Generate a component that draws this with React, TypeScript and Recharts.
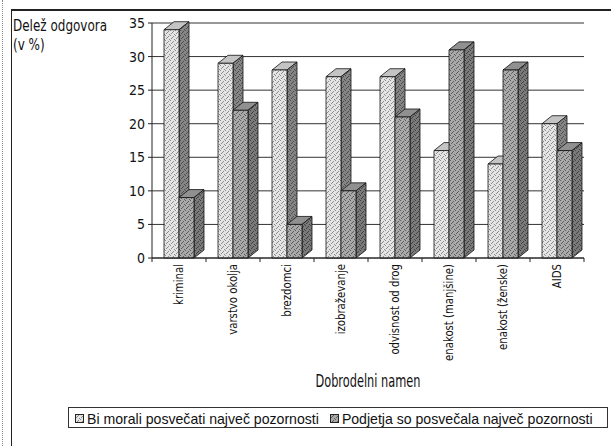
import React from "react";
import {
  BarChart,
  Bar,
  XAxis,
  YAxis,
  CartesianGrid,
  Legend,
  Label,
} from "recharts";

const categories = [
  "kriminal",
  "varstvo okolja",
  "brezdomci",
  "izobraževanje",
  "odvisnost od drog",
  "enakost (manjšine)",
  "enakost (ženske)",
  "AIDS",
];
// share of answers (in %) per charitable purpose
const shouldValues = [34, 29, 28, 27, 27, 16, 14, 20];
const companyValues = [9, 22, 5, 10, 21, 31, 28, 16];
const yTicks = [0, 5, 10, 15, 20, 25, 30, 35];

const SHOULD_NAME = "Bi morali posvečati največ pozornosti";
const COMPANY_NAME = "Podjetja so posvečala največ pozornosti";

const data = categories.map((name, i) => ({
  name,
  should: shouldValues[i],
  companies: companyValues[i],
}));

const W = 611;
const H = 446;
const PLOT_LEFT = 152;
const PLOT_RIGHT = 584;
const BAND = (PLOT_RIGHT - PLOT_LEFT) / categories.length;
const DEPTH_X = 10;
const DEPTH_Y = 8;

const NARROW = '"DejaVu Sans", sans-serif';
const PLAIN = '"Liberation Sans", Arial, sans-serif';

// horizontal squeeze around a point, to get a condensed face out of DejaVu
const squeeze = (x: number, y: number, s: number) =>
  `translate(${x},${y}) scale(${s},1) translate(${-x},${-y})`;

const faces = {
  should: { front: "url(#dotLight)", side: "url(#dotLightSide)", top: "#c4c4c4" },
  companies: { front: "url(#dotDark)", side: "url(#dotDarkSide)", top: "#909090" },
};

// stipple fill, a few darker pixels on a flat base
function Stipple({ id, base, dot }: { id: string; base: string; dot: string }) {
  return (
    <pattern id={id} width={5} height={5} patternUnits="userSpaceOnUse">
      <rect width={5} height={5} fill={base} />
      <rect x={0} y={0} width={1} height={1} fill={dot} />
      <rect x={3} y={1} width={1} height={1} fill={dot} />
      <rect x={1} y={3} width={1} height={1} fill={dot} />
      <rect x={4} y={4} width={1} height={1} fill={dot} />
      <rect x={2} y={2} width={1} height={1} fill={dot} />
    </pattern>
  );
}

function make3D(kind: "should" | "companies") {
  const f = faces[kind];
  return (props: any) => {
    const { x, y, width, height } = props;
    const x2 = x + width;
    const y2 = y + height;
    return (
      <g stroke="#111" strokeWidth={0.8} strokeLinejoin="round">
        <polygon
          points={`${x},${y} ${x + DEPTH_X},${y - DEPTH_Y} ${x2 + DEPTH_X},${y - DEPTH_Y} ${x2},${y}`}
          fill={f.top}
        />
        <polygon
          points={`${x2},${y} ${x2 + DEPTH_X},${y - DEPTH_Y} ${x2 + DEPTH_X},${y2 - DEPTH_Y} ${x2},${y2}`}
          fill={f.side}
        />
        <rect x={x} y={y} width={width} height={height} fill={f.front} />
      </g>
    );
  };
}

function CategoryTick(props: any) {
  const { x, y, payload, index } = props;
  const axisY = y - 6;
  const half = BAND / 2;
  const tx = x + 4;
  return (
    <g>
      {index === 0 && (
        <line x1={x - half} x2={x - half} y1={axisY} y2={axisY + 4} stroke="#222" />
      )}
      <line x1={x + half} x2={x + half} y1={axisY} y2={axisY + 4} stroke="#222" />
      <text
        x={tx}
        y={y}
        transform={`rotate(-90, ${tx}, ${y}) ${squeeze(tx, y, 0.78)}`}
        textAnchor="end"
        fontFamily={NARROW}
        fontSize={13}
        fill="#111"
      >
        {payload.value}
      </text>
    </g>
  );
}

function ValueTick(props: any) {
  const { x, y, payload } = props;
  return (
    <text
      x={x}
      y={y}
      dy={5}
      textAnchor="end"
      fontFamily={NARROW}
      fontSize={14}
      fill="#111"
      transform={squeeze(x, y, 0.9)}
    >
      {payload.value}
    </text>
  );
}

function LegendBox(props: any) {
  const items = props.payload || [];
  return (
    <div
      style={{
        height: 21,
        boxSizing: "border-box",
        border: "1px solid #333",
        background: "#fff",
        display: "flex",
        alignItems: "center",
        paddingLeft: 6,
        paddingTop: 2,
        fontFamily: PLAIN,
        fontSize: 14.1,
        lineHeight: "16px",
        color: "#111",
        whiteSpace: "nowrap",
        overflow: "hidden",
      }}
    >
      {items.map((it: any) => (
        <span key={it.dataKey} style={{ display: "flex", alignItems: "center", marginRight: 11 }}>
          <svg width={9} height={9} style={{ marginRight: 3 }}>
            <rect
              x={0.5}
              y={0.5}
              width={8}
              height={8}
              fill={faces[it.dataKey as "should" | "companies"].front}
              stroke="#222"
            />
          </svg>
          {it.value}
        </span>
      ))}
    </div>
  );
}

function AxisTitle() {
  return (
    <text fontFamily={NARROW} fontSize={15} fill="#111" transform={squeeze(13, 0, 0.8)}>
      <tspan x={13} y={31}>Delež odgovora</tspan>
      <tspan x={13} y={50}>(v %)</tspan>
    </text>
  );
}

function CategoryTitle(props: any) {
  const { viewBox } = props;
  const cx = viewBox.x + viewBox.width / 2;
  const by = 387;
  return (
    <text
      x={cx}
      y={by}
      textAnchor="middle"
      fontFamily={NARROW}
      fontSize={17.5}
      fill="#111"
      transform={squeeze(cx, by, 0.65)}
    >
      Dobrodelni namen
    </text>
  );
}

export default function App() {
  return (
    <div style={{ position: "absolute", left: 0, top: 0, width: W, height: H, background: "#fff" }}>
      <svg width={0} height={0} style={{ position: "absolute" }}>
        <defs>
          <Stipple id="dotLight" base="#e4e4e4" dot="#8c8c8c" />
          <Stipple id="dotLightSide" base="#858585" dot="#4c4c4c" />
          <Stipple id="dotDark" base="#a9a9a9" dot="#5c5c5c" />
          <Stipple id="dotDarkSide" base="#7a7a7a" dot="#404040" />
        </defs>
      </svg>

      {/* outer frame lines */}
      <div style={{ position: "absolute", left: 2, top: 0, width: 0, height: H, borderLeft: "1px dotted #888" }} />
      <div style={{ position: "absolute", left: 11, top: 9, width: 1, height: H - 9, background: "#222" }} />
      <div style={{ position: "absolute", left: 11, top: 9, width: W - 11, height: 2, background: "#222" }} />

      <BarChart
        width={W}
        height={H}
        data={data}
        barSize={15}
        barGap={0}
        margin={{ top: 23, right: W - PLOT_RIGHT, bottom: 18, left: PLOT_LEFT - 40 }}
        style={{ position: "absolute", left: 0, top: 0 }}
      >
        <CartesianGrid vertical={false} stroke="#333" strokeWidth={1} />
        <XAxis
          dataKey="name"
          interval={0}
          height={149}
          tickSize={4}
          tickMargin={2}
          tickLine={false}
          axisLine={{ stroke: "#222" }}
          tick={<CategoryTick />}
        >
          <Label content={<CategoryTitle />} />
        </XAxis>
        <YAxis
          width={40}
          domain={[0, 35]}
          ticks={yTicks}
          interval={0}
          tickSize={4}
          tickMargin={3}
          axisLine={{ stroke: "#222" }}
          tickLine={{ stroke: "#222" }}
          tick={<ValueTick />}
        >
          <Label content={<AxisTitle />} />
        </YAxis>
        <Legend
          verticalAlign="bottom"
          content={<LegendBox />}
          wrapperStyle={{ left: 68, width: 540 }}
        />
        <Bar dataKey="should" name={SHOULD_NAME} shape={make3D("should")} isAnimationActive={false} />
        <Bar dataKey="companies" name={COMPANY_NAME} shape={make3D("companies")} isAnimationActive={false} />
      </BarChart>
    </div>
  );
}
